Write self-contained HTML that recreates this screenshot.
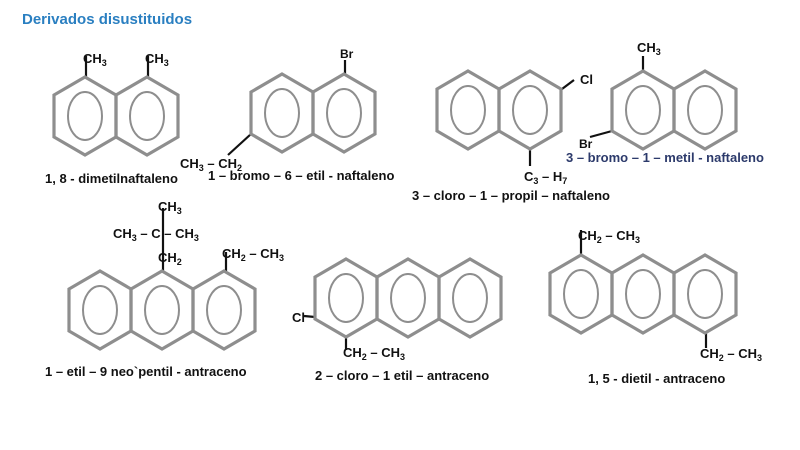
<!DOCTYPE html>
<html><head><meta charset="utf-8"><style>
html,body{margin:0;padding:0;background:#fff;}
svg{display:block;}
text{font-family:"Liberation Sans",Arial,sans-serif;font-weight:bold;font-size:13px;fill:#111;}
.s{font-size:9px;}
</style></head><body>
<svg width="800" height="450" viewBox="0 0 800 450" xmlns="http://www.w3.org/2000/svg">
<defs>
<g id="r">
<path d="M0,-39 L31,-21 L31,21 L0,39 L-31,21 L-31,-21 Z" fill="none" stroke="#8e8e8e" stroke-width="3.2" stroke-linejoin="miter"/>
<ellipse cx="0" cy="0" rx="17" ry="24" fill="none" stroke="#8e8e8e" stroke-width="2"/>
</g>
</defs>
<text x="22" y="24" style="font-size:15px;fill:#2a7fc1">Derivados disustituidos</text>

<g stroke="#111" stroke-width="2.2">
<line x1="86" y1="77" x2="86" y2="56"/><line x1="148" y1="77" x2="148" y2="56"/>
<line x1="345" y1="74" x2="345" y2="60"/><line x1="251" y1="134" x2="228" y2="155"/>
<line x1="562" y1="89" x2="574" y2="80"/><line x1="530" y1="149" x2="530" y2="166"/>
<line x1="643" y1="71" x2="643" y2="56"/><line x1="612" y1="131" x2="590" y2="137"/>
<line x1="163" y1="271" x2="163" y2="208"/><line x1="226" y1="271" x2="226" y2="252"/>
<line x1="315" y1="317" x2="304" y2="316"/><line x1="346" y1="337" x2="346" y2="350"/>
<line x1="581" y1="256" x2="581" y2="230"/><line x1="706" y1="332" x2="706" y2="348"/>
</g>

<use href="#r" x="85" y="116"/><use href="#r" x="147" y="116"/>
<use href="#r" x="282" y="113"/><use href="#r" x="344" y="113"/>
<use href="#r" x="468" y="110"/><use href="#r" x="530" y="110"/>
<use href="#r" x="643" y="110"/><use href="#r" x="705" y="110"/>
<use href="#r" x="100" y="310"/><use href="#r" x="162" y="310"/><use href="#r" x="224" y="310"/>
<use href="#r" x="346" y="298"/><use href="#r" x="408" y="298"/><use href="#r" x="470" y="298"/>
<use href="#r" x="581" y="294"/><use href="#r" x="643" y="294"/><use href="#r" x="705" y="294"/>

<text x="83" y="63">CH<tspan class="s" dy="3">3</tspan></text>
<text x="145" y="63">CH<tspan class="s" dy="3">3</tspan></text>
<text x="45" y="183">1, 8 - dimetilnaftaleno</text>
<text x="340" y="58" style="font-size:12px">Br</text>
<text x="180" y="168">CH<tspan class="s" dy="3">3</tspan><tspan dy="-3"> – CH</tspan><tspan class="s" dy="3">2</tspan></text>
<text x="208" y="180">1 – bromo – 6 – etil - naftaleno</text>
<text x="580" y="84">Cl</text>
<text x="524" y="181">C<tspan class="s" dy="3">3</tspan><tspan dy="-3"> – H</tspan><tspan class="s" dy="3">7</tspan></text>
<text x="412" y="200">3 – cloro – 1 – propil – naftaleno</text>
<text x="637" y="52">CH<tspan class="s" dy="3">3</tspan></text>
<text x="579" y="148" style="font-size:12px">Br</text>
<text x="566" y="162" style="fill:#2c3a6b">3 – bromo – 1 – metil - naftaleno</text>

<text x="158" y="211">CH<tspan class="s" dy="3">3</tspan></text>
<text x="113" y="238">CH<tspan class="s" dy="3">3</tspan><tspan dy="-3"> – C – CH</tspan><tspan class="s" dy="3">3</tspan></text>
<text x="158" y="262">CH<tspan class="s" dy="3">2</tspan></text>
<text x="222" y="258">CH<tspan class="s" dy="3">2</tspan><tspan dy="-3"> – CH</tspan><tspan class="s" dy="3">3</tspan></text>
<text x="45" y="376">1 – etil – 9 neo`pentil - antraceno</text>
<text x="292" y="322">Cl</text>
<text x="343" y="357">CH<tspan class="s" dy="3">2</tspan><tspan dy="-3"> – CH</tspan><tspan class="s" dy="3">3</tspan></text>
<text x="315" y="380">2 – cloro – 1 etil – antraceno</text>
<text x="578" y="240">CH<tspan class="s" dy="3">2</tspan><tspan dy="-3"> – CH</tspan><tspan class="s" dy="3">3</tspan></text>
<text x="700" y="358">CH<tspan class="s" dy="3">2</tspan><tspan dy="-3"> – CH</tspan><tspan class="s" dy="3">3</tspan></text>
<text x="588" y="383">1, 5 - dietil - antraceno</text>
</svg>
</body></html>
